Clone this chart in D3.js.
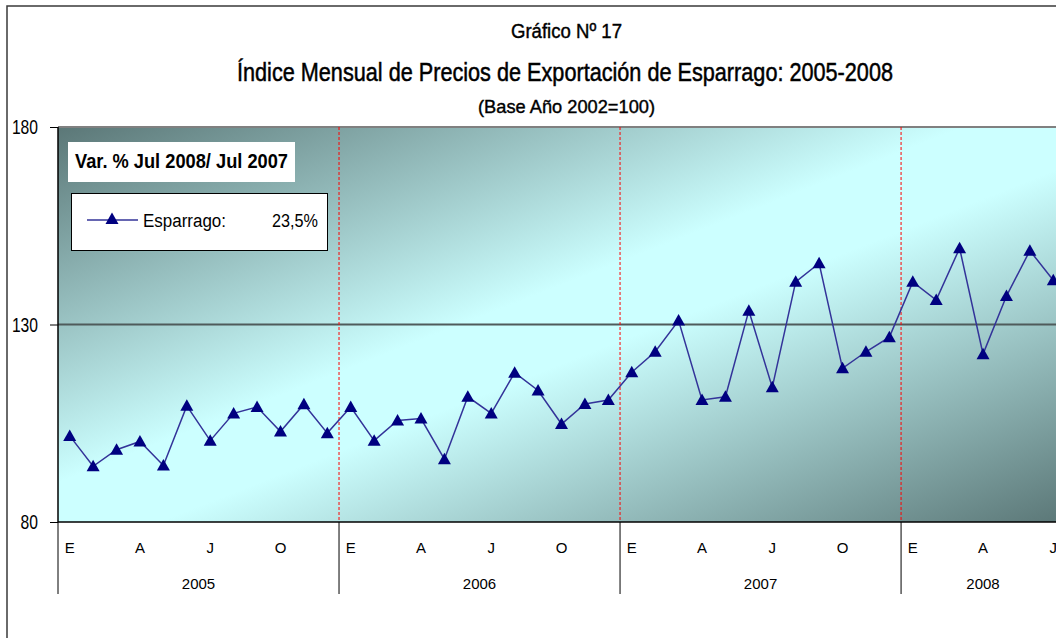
<!DOCTYPE html>
<html>
<head>
<meta charset="utf-8">
<script src="https://cdn.jsdelivr.net/npm/d3@7"></script>
<style>
  body { margin: 0; background: #fff; }
  text { font-family: "Liberation Sans", Arial, sans-serif; fill: #000; }
</style>
</head>
<body>
<svg id="chart" width="1056" height="638"></svg>
<script>
(function () {
    'use strict';

    // data
    var years = ["2005", "2006", "2007", "2008"];
    var monthLetters = ["E", "F", "M", "A", "M", "J", "J", "A", "S", "O", "N", "D"];
    var esparrago2005 = [101.8, 94.1, 98.3, 100.4, 94.3, 109.4, 100.6, 107.5, 109.1, 102.9, 109.8, 102.5];
    var esparrago2006 = [109.1, 100.6, 105.7, 106.2, 95.9, 111.7, 107.5, 117.8, 113.3, 104.8, 109.9, 110.9];
    var esparrago2007 = [117.9, 123.1, 131.0, 110.9, 111.7, 133.5, 114.1, 140.8, 145.5, 118.9, 123.1, 126.8];
    var esparrago2008 = [140.8, 136.2, 149.3, 122.5, 137.2, 148.7, 141.2];
    var yTicks = [80, 130, 180];

    var byYear = [esparrago2005, esparrago2006, esparrago2007, esparrago2008];
    var values = esparrago2005.concat(esparrago2006, esparrago2007, esparrago2008);
    var points = values.map(function (v, i) {
        return { i: i, year: years[Math.floor(i / 12)], month: monthLetters[i % 12], value: v };
    });

    var svg = d3.select("#chart");
    var left = 58, top = 127, bottom = 522, right = 1065;

    var x = d3.scaleBand()
        .domain(d3.range(values.length))
        .range([left, right]);
    var y = d3.scaleLinear()
        .domain([80, 180])
        .range([bottom, top]);

    // gradient of the plot area
    var grad = svg.append("defs").append("linearGradient")
        .attr("id", "bg")
        .attr("x1", 0).attr("y1", 0).attr("x2", 1).attr("y2", 1);
    grad.append("stop").attr("offset", "0").attr("stop-color", "#5b7777");
    grad.append("stop").attr("offset", "0.45").attr("stop-color", "#ccffff");
    grad.append("stop").attr("offset", "0.55").attr("stop-color", "#ccffff");
    grad.append("stop").attr("offset", "1").attr("stop-color", "#5b7777");

    // narrow (condensed) text helper, Arial Narrow is not available
    function narrow(sel, width) {
        return sel.attr("textLength", width).attr("lengthAdjust", "spacingAndGlyphs");
    }

    // outer frame
    svg.append("rect")
        .attr("x", 7).attr("y", 6)
        .attr("width", 1200).attr("height", 800)
        .style("fill", "none")
        .style("stroke", "#3a3a3a")
        .style("stroke-width", "1.5px");

    // titles
    narrow(svg.append("text")
        .attr("x", 511).attr("y", 38)
        .style("font-size", "20px")
        .style("stroke", "#000").style("stroke-width", "0.4px")
        .text("Gráfico Nº 17"), 111);
    narrow(svg.append("text")
        .attr("x", 237).attr("y", 81)
        .style("font-size", "26px")
        .style("stroke", "#000").style("stroke-width", "0.5px")
        .text("Índice Mensual de Precios de Exportación de Esparrago: 2005-2008"), 656);
    narrow(svg.append("text")
        .attr("x", 478).attr("y", 113)
        .style("font-size", "19px")
        .style("stroke", "#000").style("stroke-width", "0.4px")
        .text("(Base Año 2002=100)"), 177);

    // plot area
    svg.append("rect")
        .attr("x", left).attr("y", top)
        .attr("width", right - left).attr("height", bottom - top)
        .style("fill", "url(#bg)");
    svg.append("line")
        .attr("x1", left).attr("x2", right)
        .attr("y1", top).attr("y2", top)
        .style("stroke", "#808080")
        .style("stroke-width", "2px");

    // gridline at 130
    svg.append("g")
        .selectAll("line")
        .data(yTicks.filter(function (d) { return d > 80 && d < 180; }))
        .enter()
        .append("line")
        .attr("x1", left).attr("x2", right)
        .attr("y1", function (d) { return y(d); })
        .attr("y2", function (d) { return y(d); })
        .style("stroke", "#4f5b5b")
        .style("stroke-width", "2px");

    // year separators (red dashed inside, black below)
    var yearStarts = years.map(function (yr, k) { return x(k * 12); });
    svg.append("g")
        .selectAll("line")
        .data(yearStarts.slice(1))
        .enter()
        .append("line")
        .attr("x1", function (d) { return d; })
        .attr("x2", function (d) { return d; })
        .attr("y1", top).attr("y2", bottom)
        .style("stroke", "#ff0000")
        .style("stroke-width", "1px")
        .style("stroke-dasharray", "3,2");

    svg.append("g")
        .selectAll("line")
        .data(yearStarts)
        .enter()
        .append("line")
        .attr("x1", function (d) { return d; })
        .attr("x2", function (d) { return d; })
        .attr("y1", bottom).attr("y2", 594)
        .style("stroke", "#000")
        .style("stroke-width", "1px");

    // y axis
    var yAxis = svg.append("g")
        .attr("transform", "translate(" + left + ",0)")
        .call(d3.axisLeft(y).tickValues(yTicks).tickSize(8).tickPadding(12).tickFormat(d3.format("d")));
    yAxis.select(".domain").remove();
    yAxis.selectAll(".tick line").style("stroke", "#000");
    yAxis.selectAll("text")
        .style("font-size", "21px")
        .style("font-family", null)
        .attr("textLength", function (d) { return String(d).length * 8.7; })
        .attr("lengthAdjust", "spacingAndGlyphs");
    svg.append("line")
        .attr("x1", left).attr("x2", left)
        .attr("y1", top).attr("y2", bottom)
        .style("stroke", "#000")
        .style("stroke-width", "1.5px");

    // x axis: month letters
    var xAxis = svg.append("g")
        .attr("transform", "translate(0," + bottom + ")")
        .call(d3.axisBottom(x)
            .tickValues(d3.range(values.length).filter(function (i) { return i % 3 === 0; }))
            .tickSize(0)
            .tickPadding(20)
            .tickFormat(function (i) { return monthLetters[i % 12]; }));
    xAxis.select(".domain").remove();
    xAxis.selectAll("text")
        .style("font-size", "15px")
        .style("font-family", null);
    svg.append("line")
        .attr("x1", left).attr("x2", right)
        .attr("y1", bottom).attr("y2", bottom)
        .style("stroke", "#000")
        .style("stroke-width", "1.5px");

    // year labels, centred over the months present
    svg.append("g")
        .selectAll("text")
        .data(years)
        .enter()
        .append("text")
        .attr("x", function (d, k) {
            return x(k * 12) + byYear[k].length * x.bandwidth() / 2;
        })
        .attr("y", 589)
        .attr("text-anchor", "middle")
        .style("font-size", "15px")
        .text(function (d) { return d; });

    // series
    var line = d3.line()
        .x(function (d) { return x(d.i) + x.bandwidth() / 2; })
        .y(function (d) { return y(d.value); });
    svg.append("path")
        .datum(points)
        .attr("d", line)
        .style("fill", "none")
        .style("stroke", "#333399")
        .style("stroke-width", "1.5px");

    var tri = "M0,-6.5L6.5,5L-6.5,5Z";
    svg.append("g")
        .selectAll("path")
        .data(points)
        .enter()
        .append("path")
        .attr("d", tri)
        .attr("transform", function (d) {
            return "translate(" + (x(d.i) + x.bandwidth() / 2) + "," + y(d.value) + ")";
        })
        .style("fill", "#000080");

    // variation box
    svg.append("rect")
        .attr("x", 68).attr("y", 142)
        .attr("width", 227).attr("height", 40)
        .style("fill", "#fff");
    narrow(svg.append("text")
        .attr("x", 75).attr("y", 168)
        .style("font-size", "21px")
        .style("font-weight", "bold")
        .text("Var. % Jul 2008/ Jul 2007"), 213);

    // legend
    var legend = svg.append("g");
    legend.append("rect")
        .attr("x", 71.5).attr("y", 193.5)
        .attr("width", 256).attr("height", 57)
        .style("fill", "#fff")
        .style("stroke", "#000")
        .style("stroke-width", "1px");
    legend.append("line")
        .attr("x1", 87).attr("x2", 138)
        .attr("y1", 220).attr("y2", 220)
        .style("stroke", "#333399")
        .style("stroke-width", "1.5px");
    legend.append("path")
        .attr("d", tri)
        .attr("transform", "translate(112,219)")
        .style("fill", "#000080");
    narrow(legend.append("text")
        .attr("x", 143).attr("y", 227)
        .style("font-size", "18px")
        .text("Esparrago:"), 83);
    narrow(legend.append("text")
        .attr("x", 272).attr("y", 227)
        .style("font-size", "18px")
        .text("23,5%"), 46);
}());
</script>
</body>
</html>
